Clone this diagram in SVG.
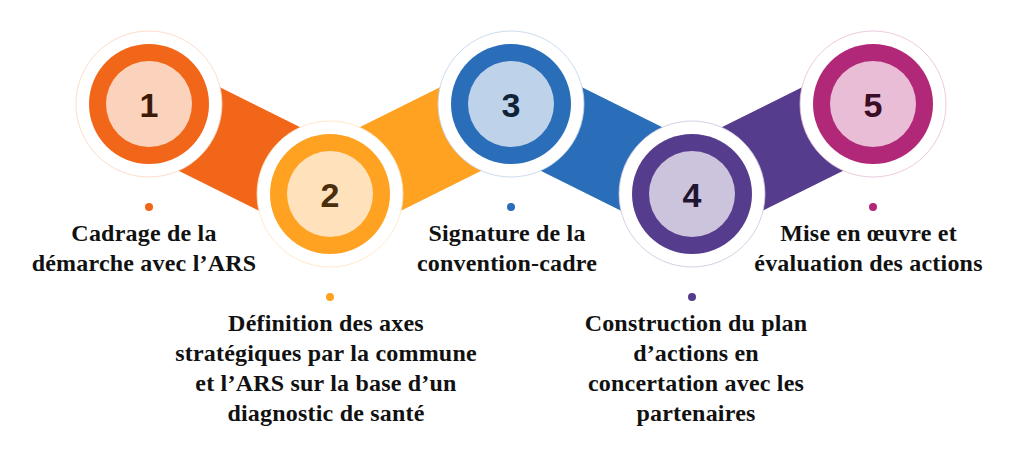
<svg xmlns="http://www.w3.org/2000/svg" width="1010" height="462" viewBox="0 0 1010 462">
<style>
.halo{fill:#ffffff;stroke-width:1;stroke-opacity:0.8}
.num{font-family:"Liberation Sans",Arial,sans-serif;font-weight:bold;font-size:34px;text-anchor:middle}
.lbl{font-family:"Liberation Serif","Times New Roman",serif;font-weight:bold;font-size:24px;letter-spacing:0.2px;fill:#111111;text-anchor:middle}
.band{stroke-width:93;stroke-linecap:butt;fill:none}
</style>
<rect width="1010" height="462" fill="#ffffff"/>
<g id="connectors">
<line class="band" x1="149" y1="104" x2="330" y2="194" stroke="#F26619"/>
<line class="band" x1="330" y1="194" x2="511" y2="104" stroke="#FFA121"/>
<line class="band" x1="511" y1="104" x2="692" y2="194" stroke="#2A6DB9"/>
<line class="band" x1="692" y1="194" x2="873" y2="104" stroke="#563C8C"/>
</g>
<g id="step1">
<circle class="halo" cx="149" cy="104" r="73" stroke="#FBD3BC"/>
<circle cx="149" cy="104" r="60" fill="#F26619"/>
<circle cx="149" cy="104" r="43" fill="#FBD3BC"/>
<text class="num" x="149" y="116.5" fill="#3B1A08">1</text>
<circle cx="149" cy="207" r="4" fill="#F26619"/>
<text class="lbl" x="144" y="241">Cadrage de la</text>
<text class="lbl" x="144" y="271">démarche avec l’ARS</text>
</g>
<g id="step2">
<circle class="halo" cx="330" cy="194" r="73" stroke="#FFE2BC"/>
<circle cx="330" cy="194" r="60" fill="#FFA121"/>
<circle cx="330" cy="194" r="43" fill="#FFE2BC"/>
<text class="num" x="330" y="206.5" fill="#4A2D0C">2</text>
<circle cx="330" cy="297" r="4" fill="#FFA121"/>
<text class="lbl" x="326" y="331">Définition des axes</text>
<text class="lbl" x="326" y="361">stratégiques par la commune</text>
<text class="lbl" x="326" y="391">et l’ARS sur la base d’un</text>
<text class="lbl" x="326" y="421">diagnostic de santé</text>
</g>
<g id="step3">
<circle class="halo" cx="511" cy="104" r="73" stroke="#BED3EA"/>
<circle cx="511" cy="104" r="60" fill="#2A6DB9"/>
<circle cx="511" cy="104" r="43" fill="#BED3EA"/>
<text class="num" x="511" y="116.5" fill="#0E2238">3</text>
<circle cx="511" cy="207" r="4" fill="#2A6DB9"/>
<text class="lbl" x="507" y="241">Signature de la</text>
<text class="lbl" x="507" y="271">convention-cadre</text>
</g>
<g id="step4">
<circle class="halo" cx="692" cy="194" r="73" stroke="#CCC3DD"/>
<circle cx="692" cy="194" r="60" fill="#563C8C"/>
<circle cx="692" cy="194" r="43" fill="#CCC3DD"/>
<text class="num" x="692" y="206.5" fill="#1F1530">4</text>
<circle cx="692" cy="297" r="4" fill="#563C8C"/>
<text class="lbl" x="696" y="331">Construction du plan</text>
<text class="lbl" x="696" y="361">d’actions en</text>
<text class="lbl" x="696" y="391">concertation avec les</text>
<text class="lbl" x="696" y="421">partenaires</text>
</g>
<g id="step5">
<circle class="halo" cx="873" cy="104" r="73" stroke="#E8BDD5"/>
<circle cx="873" cy="104" r="60" fill="#B22878"/>
<circle cx="873" cy="104" r="43" fill="#E8BDD5"/>
<text class="num" x="873" y="116.5" fill="#3A0C26">5</text>
<circle cx="873" cy="207" r="4" fill="#B22878"/>
<text class="lbl" x="868.5" y="241">Mise en œuvre et</text>
<text class="lbl" x="868.5" y="271">évaluation des actions</text>
</g>
</svg>
